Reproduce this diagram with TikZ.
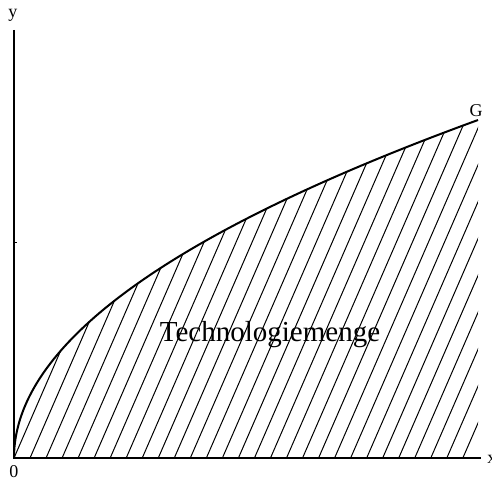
\documentclass[tikz,border=0pt]{standalone}
\usepackage{fontspec}
\setmainfont{Liberation Serif}
\usetikzlibrary{positioning}

\begin{document}
\begin{tikzpicture}[
    x=0.5pt, y=0.5pt,
    axis/.style={line width=1pt},
    frontier/.style={line width=1pt},
    hatch/.style={line width=0.5pt},
    axislabel/.style={inner sep=0pt, font=\fontsize{9}{10}\selectfont},
    setlabel/.style={inner sep=0pt, anchor=base, font=\fontsize{14.5}{16}\selectfont}
]
    \useasboundingbox (-14,-24) rectangle (478,458);

    % technology set under the frontier
    \begin{scope}
        \clip (0,0) -- plot[domain=0:21.541, samples=120, variable=\s] ({\s*\s},{15.69*\s}) -- (464,0) -- cycle;
        \foreach \k in {0,...,29}
            \draw[hatch] (\k*16.03,0) -- ++(200,460);
    \end{scope}

    % frontier G
    \draw[frontier] plot[domain=0:21.541, samples=120, variable=\s] ({\s*\s},{15.69*\s});

    % axes
    \coordinate (origin) at (0,0);
    \coordinate (ytop) at (0,428);
    \coordinate (xend) at (467,0);
    \draw[axis] (ytop) -- (origin) -- (xend);
    \draw[hatch] (0,215) -- (2.5,215);

    \node[axislabel] (ylabel) at (-1,443) {y};
    \node[axislabel] (zero) at (0,-14) {0};
    \node[axislabel, anchor=west] (xlabel) at (473,-1) {x};
    \node[axislabel] (glabel) at (462,347) {G};
    \node[setlabel] (tech) at (256,116) {Technologiemenge};
\end{tikzpicture}
\end{document}
